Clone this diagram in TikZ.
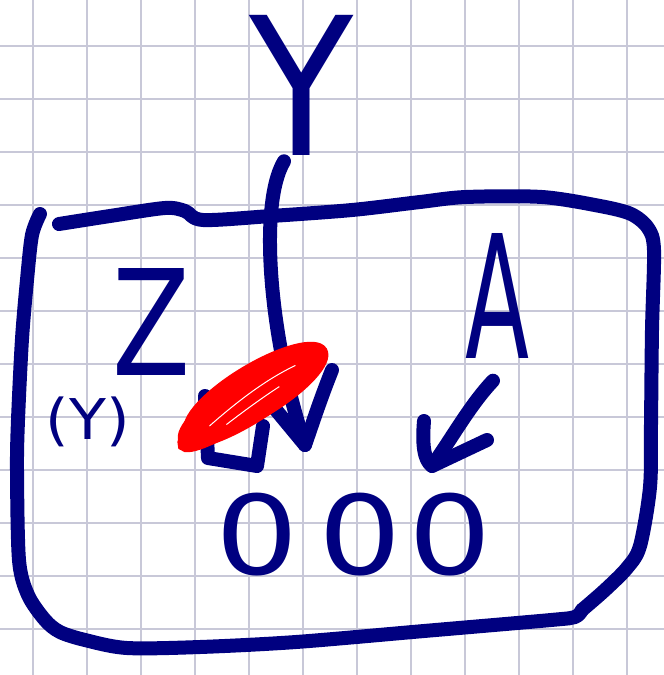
\documentclass[tikz,border=0pt]{standalone}
\usepackage{fontspec}
\setsansfont{DejaVu Sans}
\usepackage{graphicx}
\definecolor{ink}{RGB}{0,0,128}
\definecolor{gridc}{RGB}{200,200,216}
\definecolor{redmark}{RGB}{255,0,0}
\begin{document}
\begin{tikzpicture}[x=1pt,y=-1pt,
  pen/.style={draw=ink,line width=14pt,line cap=round,line join=round},
  hand/.style={text=ink,inner sep=0pt,font=\sffamily},
  redpen/.style={draw=redmark,line width=9pt},
  gridline/.style={draw=gridc,line width=1.3pt}]
\useasboundingbox (0,0) rectangle (664,675);
\fill[white] (0,0) rectangle (664,675);
\foreach \x in {33,87,...,640} \draw[gridline] (\x,0) -- (\x,675);
\foreach \y in {46,99,...,670} \draw[gridline] (0,\y) -- (664,\y);

% texts
\node[hand] (Y) at (302,85) {\resizebox*{104pt}{140pt}{Y}};
\node[hand] (Z) at (152,322) {\resizebox*{78pt}{107pt}{Z}};
\node[hand] (A) at (498,296) {\resizebox*{64pt}{125pt}{A}};
\node[hand] (Yp) at (88,422) {\resizebox*{84pt}{50pt}{(Y)}};
\node[hand] (zeros) at (354,535) {\resizebox*{276pt}{83pt}{0\hspace{0.15em}0\hspace{0.05em}0}};

% box
\draw[pen] plot[smooth] coordinates {(40,214) (32,235) (27,280) (22,339) (18,420) (17,470) (19,560) (28,595) (45,620) (60,632) (85,640) (127,648) (200,647) (296,642) (424,631) (551,620) (575,617) (582,610)};
\draw[pen] plot[smooth] coordinates {(59,224) (110,216) (165,208) (185,211) (203,220) (271,216) (352,210) (420,202) (466,197) (542,197) (600,206) (631,214) (648,228) (654,250) (652,330) (651,424) (650,487) (640,546) (627,568) (605,590) (582,610)};

% arrow from Y
\coordinate (tip) at (305,445);
\draw[pen] ([xshift=-18pt,yshift=-6pt]Y.south) .. controls (258,205) and (270,340) .. (tip);
\draw[pen] (332,370) .. controls (320,400) and (312,425) .. (tip) -- (276,410);
\draw[pen] (205,396) -- (208,458) -- (257,466) -- (263,426);

% red scribble
\fill[redmark,rotate around={33:(252,396)}] (252,396) ellipse (82 and 21);
\draw[redpen,rotate around={33:(252,396)}] (252,396) ellipse (82 and 21);
\draw[redpen,rotate around={31:(256,391)}] (256,391) ellipse (78 and 23);
\draw[redpen,rotate around={35:(248,400)}] (248,400) ellipse (80 and 16);
\draw[white,line width=1pt,rotate around={33:(252,396)}] (200,398) .. controls (240,392) and (275,390) .. (305,394);
\draw[white,line width=1pt,rotate around={33:(252,396)}] (215,406) .. controls (240,404) and (262,403) .. (280,403);

% arrow from A
\coordinate (atip) at (432,466);
\draw[pen] ([xshift=-5pt,yshift=-22pt]A.south) .. controls (470,405) and (452,438) .. (atip);
\draw[pen] (424,421) .. controls (422,445) and (424,460) .. (atip) -- (487,440);
\end{tikzpicture}
\end{document}
